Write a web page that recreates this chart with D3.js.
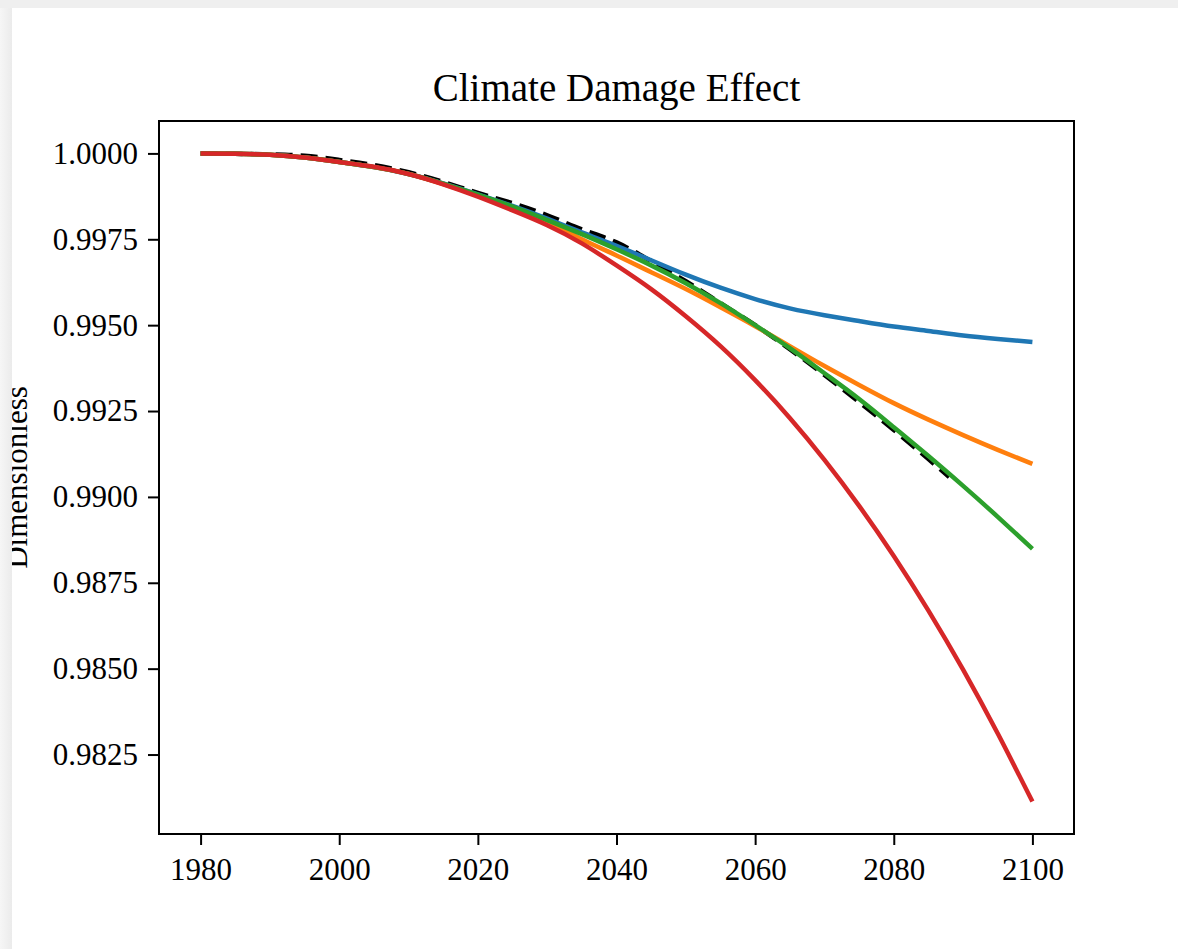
<!DOCTYPE html>
<html lang="en">
<head>
    <meta charset="UTF-8">
    <title>Climate Damage Effect</title>
    <script src="https://d3js.org/d3.v7.min.js"></script>
    <style>
        body {
            margin: 0;
            padding: 0;
            background: #ffffff;
            overflow: hidden;
        }
        svg {
            position: absolute;
            left: 0;
            top: 0;
            font-family: "Liberation Serif", "Times New Roman", serif;
        }
    </style>
</head>
<body>
    <div id="chart"></div>
    <script>
        // Data
        const years = [1980, 1985, 1990, 1995, 2000, 2005, 2010, 2015, 2020, 2025, 2030, 2035,
                       2040, 2045, 2050, 2055, 2060, 2065, 2070, 2075, 2080, 2085, 2090, 2095, 2100];
        const blueVals = [1.00000, 0.99999, 0.99996, 0.99988, 0.99975, 0.99960, 0.99940, 0.99913, 0.99881,
                          0.99847, 0.99810, 0.99770, 0.99731, 0.99689, 0.99647, 0.99609, 0.99576, 0.99549,
                          0.99529, 0.99512, 0.99496, 0.99483, 0.99470, 0.99460, 0.99451];
        const orangeVals = [1.00000, 0.99999, 0.99996, 0.99988, 0.99975, 0.99960, 0.99940, 0.99911, 0.99878,
                            0.99842, 0.99801, 0.99750, 0.99703, 0.99654, 0.99605, 0.99552, 0.99497, 0.99439,
                            0.99381, 0.99326, 0.99273, 0.99225, 0.99180, 0.99137, 0.99096];
        const greenVals = [1.00000, 0.99999, 0.99996, 0.99988, 0.99975, 0.99960, 0.99940, 0.99912, 0.99880,
                           0.99845, 0.99806, 0.99765, 0.99721, 0.99674, 0.99622, 0.99564, 0.99500, 0.99433,
                           0.99360, 0.99285, 0.99203, 0.99119, 0.99032, 0.98942, 0.98849];
        const redVals = [1.00000, 0.99999, 0.99996, 0.99988, 0.99975, 0.99961, 0.99940, 0.99910, 0.99874,
                         0.99834, 0.99791, 0.99738, 0.99674, 0.99605, 0.99526, 0.99439, 0.99340, 0.99230,
                         0.99108, 0.98974, 0.98828, 0.98669, 0.98497, 0.98311, 0.98113];
        // dashed reference line stops early
        const refYears = [1980, 1985, 1990, 1995, 2000, 2005, 2010, 2015, 2020, 2025, 2030, 2035,
                          2040, 2045, 2050, 2055, 2060, 2065, 2070, 2075, 2080, 2085, 2088];
        const refVals = [1.00000, 0.99999, 0.99997, 0.99993, 0.99981, 0.99966, 0.99945, 0.99917, 0.99885,
                         0.99855, 0.99820, 0.99779, 0.99741, 0.99686, 0.99628, 0.99564, 0.99500, 0.99430,
                         0.99355, 0.99276, 0.99195, 0.99110, 0.99058];
        const xTicks = [1980, 2000, 2020, 2040, 2060, 2080, 2100];
        const yTicks = [1.0, 0.9975, 0.995, 0.9925, 0.99, 0.9875, 0.985, 0.9825];

        const W = 1178, H = 949;
        const box = {left: 159, right: 1074, top: 121, bottom: 834};

        const svg = d3.select("#chart").append("svg")
            .attr("width", W)
            .attr("height", H);

        // matplotlib-style 5% margins
        const allVals = [].concat(blueVals, orangeVals, greenVals, redVals, refVals);
        const [yMin, yMax] = d3.extent(allVals);
        const yPad = (yMax - yMin) * 0.05;
        const xPad = (2100 - 1980) * 0.05;

        const x = d3.scaleLinear()
            .domain([1980 - xPad, 2100 + xPad])
            .range([box.left, box.right]);
        const y = d3.scaleLinear()
            .domain([yMin - yPad, yMax + yPad])
            .range([box.bottom, box.top]);

        const line = d3.line()
            .x(d => x(d[0]))
            .y(d => y(d[1]))
            .curve(d3.curveNatural);

        const series = [
            {yrs: refYears, vals: refVals, color: "#000000", dash: "17,8"},
            {yrs: years, vals: blueVals, color: "#1f77b4"},
            {yrs: years, vals: orangeVals, color: "#ff7f0e"},
            {yrs: years, vals: greenVals, color: "#2ca02c"},
            {yrs: years, vals: redVals, color: "#d62728"}
        ];

        series.forEach(s => {
            svg.append("path")
                .datum(s.yrs.map((yr, i) => [yr, s.vals[i]]))
                .attr("fill", "none")
                .attr("stroke", s.color)
                .attr("stroke-width", 4.5)
                .attr("stroke-dasharray", s.dash || null)
                .attr("d", line);
        });

        // axes
        const xAxis = svg.append("g")
            .attr("transform", `translate(0,${box.bottom})`)
            .call(d3.axisBottom(x).tickValues(xTicks).tickFormat(d3.format("d"))
                .tickSize(11));
        const yAxis = svg.append("g")
            .attr("transform", `translate(${box.left},0)`)
            .call(d3.axisLeft(y).tickValues(yTicks).tickFormat(d3.format(".4f"))
                .tickSize(11).tickPadding(10));

        [xAxis, yAxis].forEach(g => {
            g.select(".domain").remove();
            g.selectAll(".tick line").attr("stroke", "#000").attr("stroke-width", 2);
            g.selectAll(".tick text")
                .attr("fill", "#000")
                .style("font-family", "'Liberation Serif', 'Times New Roman', serif")
                .style("font-size", "31px");
        });
        xAxis.selectAll(".tick text").attr("dy", "0.71em").attr("y", 24);

        // frame
        svg.append("rect")
            .attr("x", box.left)
            .attr("y", box.top)
            .attr("width", box.right - box.left)
            .attr("height", box.bottom - box.top)
            .attr("fill", "none")
            .attr("stroke", "#000")
            .attr("stroke-width", 2);

        // title
        svg.append("text")
            .attr("x", (box.left + box.right) / 2)
            .attr("y", 101)
            .attr("text-anchor", "middle")
            .style("font-size", "39px")
            .text("Climate Damage Effect");

        // y label, partly cut by the page edge
        svg.append("text")
            .attr("transform", `translate(27,${(box.top + box.bottom) / 2}) rotate(-90)`)
            .attr("text-anchor", "middle")
            .style("font-size", "31px")
            .text("Dimensionless");

        // grey frame of the screenshot
        const grad = svg.append("defs").append("linearGradient")
            .attr("id", "edge");
        grad.append("stop").attr("offset", "0%").attr("stop-color", "#f6f6f6");
        grad.append("stop").attr("offset", "100%").attr("stop-color", "#ebebeb");
        svg.append("rect")
            .attr("x", 0).attr("y", 0)
            .attr("width", 12).attr("height", H)
            .attr("fill", "url(#edge)");
        svg.append("rect")
            .attr("x", 0).attr("y", 0)
            .attr("width", W).attr("height", 8)
            .attr("fill", "#efefef");
    </script>
</body>
</html>
